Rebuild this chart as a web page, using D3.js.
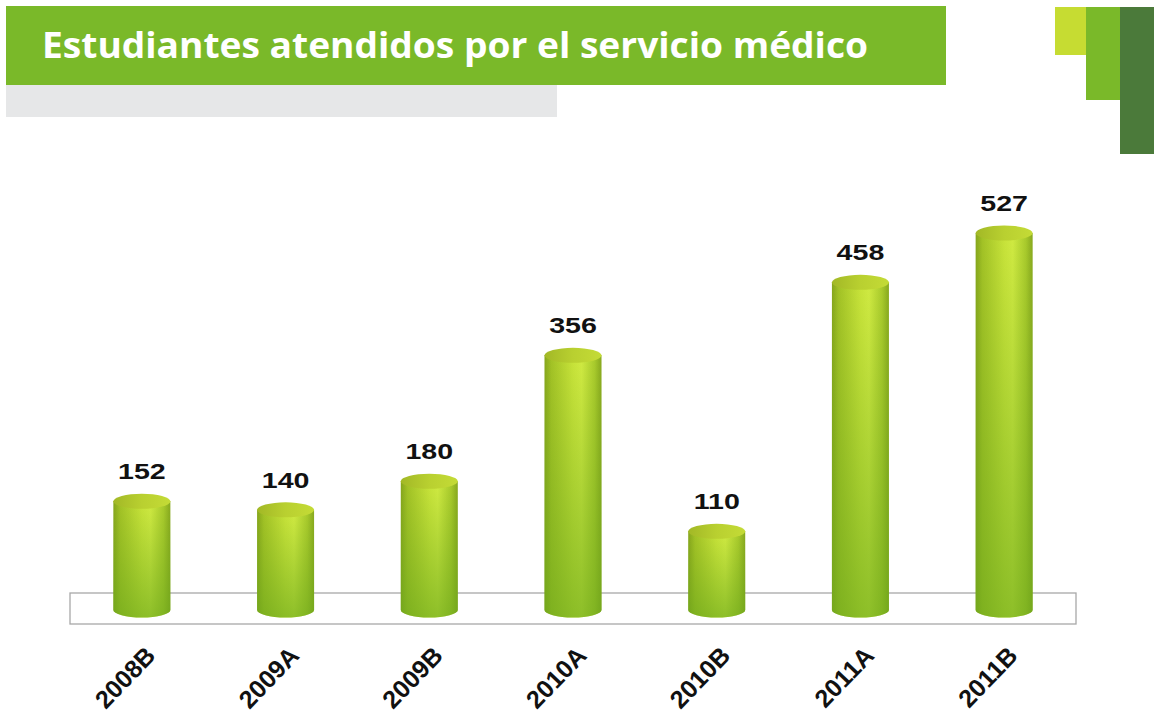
<!DOCTYPE html>
<html>
<head>
<meta charset="utf-8">
<script src="https://cdn.jsdelivr.net/npm/d3@7"></script>
<style>
  body { margin: 0; background: #fff; overflow: hidden; }
</style>
</head>
<body>
<svg width="1154" height="719"></svg>
<script>
  const categories = ["2008B", "2009A", "2009B", "2010A", "2010B", "2011A", "2011B"];
  const values = [152, 140, 180, 356, 110, 458, 527];
  const title = "Estudiantes atendidos por el servicio médico";

  const svg = d3.select("svg");
  const defs = svg.append("defs");

  // side shading of the cylinders
  const gH = defs.append("linearGradient").attr("id", "side").attr("x1", 0).attr("x2", 1).attr("y1", 0).attr("y2", 0);
  [[0, "#86a51c"], [0.12, "#a3c226"], [0.5, "#c8e33a"], [0.65, "#d0ea42"], [0.88, "#a9ca2c"], [1, "#88a81e"]]
    .forEach(s => gH.append("stop").attr("offset", s[0]).attr("stop-color", s[1]));
  const gV = defs.append("linearGradient").attr("id", "fade").attr("x1", 0).attr("x2", 0).attr("y1", 0).attr("y2", 1);
  gV.append("stop").attr("offset", 0).attr("stop-color", "#6aa81c").attr("stop-opacity", 0);
  gV.append("stop").attr("offset", 1).attr("stop-color", "#6aa81c").attr("stop-opacity", 0.65);
  const gT = defs.append("linearGradient").attr("id", "top").attr("x1", 0).attr("x2", 1).attr("y1", 0).attr("y2", 0);
  [[0, "#a2b826"], [0.5, "#b9d030"], [1, "#c4db36"]]
    .forEach(s => gT.append("stop").attr("offset", s[0]).attr("stop-color", s[1]));

  // header
  svg.append("rect").attr("x", 6).attr("y", 6).attr("width", 940).attr("height", 79).attr("fill", "#7ab929");
  svg.append("rect").attr("x", 6).attr("y", 85).attr("width", 551).attr("height", 32).attr("fill", "#e6e7e8");
  svg.append("text").attr("x", 42).attr("y", 58)
    .attr("font-family", "'Open Sans', sans-serif").attr("font-weight", 700).attr("font-size", 35)
    .attr("fill", "#fff").attr("textLength", 826).attr("lengthAdjust", "spacingAndGlyphs")
    .text(title);

  // corner blocks
  svg.append("rect").attr("x", 1055).attr("y", 7).attr("width", 31).attr("height", 48).attr("fill", "#c6dc32");
  svg.append("rect").attr("x", 1086).attr("y", 7).attr("width", 34).attr("height", 93).attr("fill", "#7ab929");
  svg.append("rect").attr("x", 1120).attr("y", 7).attr("width", 34).attr("height", 147).attr("fill", "#4b7a3a");

  // scales
  const x = d3.scaleBand().domain(categories).range([70, 1076]);
  const y = d3.scaleLinear().domain([0, 527]).range([610, 233]);

  // floor
  svg.append("rect").attr("x", 70).attr("y", 593).attr("width", 1006).attr("height", 31)
    .attr("fill", "#fff").attr("stroke", "#a8a8a8").attr("stroke-width", 1.3);

  const rx = 28.5, ry = 7.5;
  const bars = svg.append("g").selectAll("g").data(values).join("g")
    .attr("transform", (d, i) => `translate(${x(categories[i]) + x.bandwidth() / 2},0)`);

  const body = d => `M${-rx},${y(d)} L${-rx},${y(0)} A${rx},${ry} 0 0 0 ${rx},${y(0)} L${rx},${y(d)} Z`;
  bars.append("path").attr("d", body).attr("fill", "url(#side)");
  bars.append("path").attr("d", body).attr("fill", "url(#fade)");
  bars.append("ellipse").attr("cx", 0).attr("cy", d => y(d)).attr("rx", rx).attr("ry", ry).attr("fill", "url(#top)");

  // value labels
  bars.append("text")
    .attr("transform", d => `translate(0,${y(d) - 22}) scale(1.3,1)`)
    .attr("text-anchor", "middle")
    .attr("font-family", "'Liberation Sans', Arial, sans-serif").attr("font-weight", "bold").attr("font-size", 22)
    .attr("fill", "#111")
    .text(d => d);

  // category labels
  svg.append("g").selectAll("text").data(categories).join("text")
    .attr("transform", d => `translate(${x(d) + x.bandwidth() / 2 + 15},657) rotate(-46)`)
    .attr("text-anchor", "end")
    .attr("font-family", "'Liberation Sans', Arial, sans-serif").attr("font-weight", "bold").attr("font-size", 25)
    .attr("fill", "#111")
    .text(d => d);
</script>
</body>
</html>
